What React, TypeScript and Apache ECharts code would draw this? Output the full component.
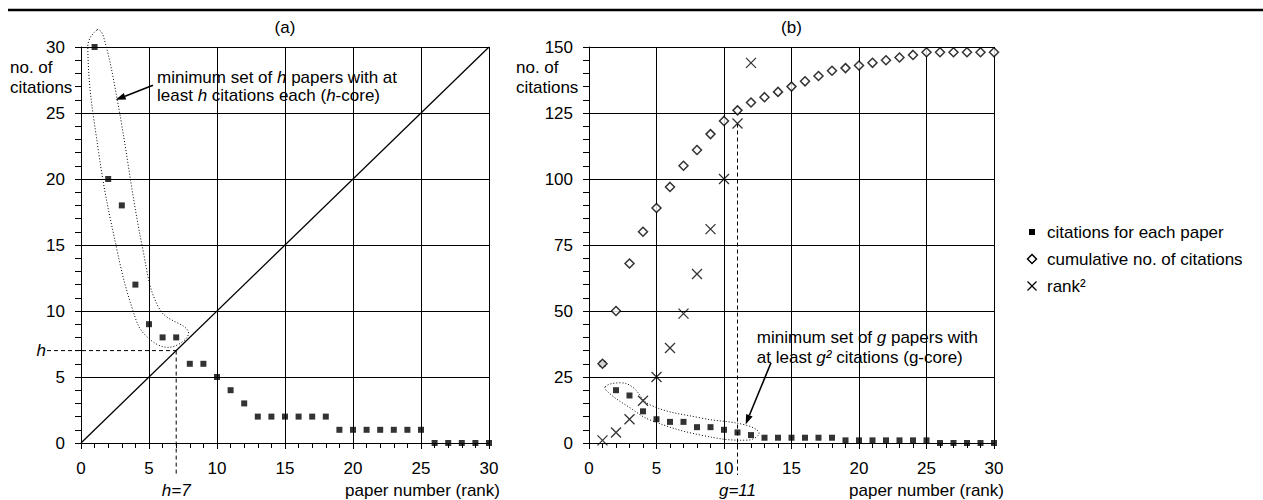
import React, { useEffect, useRef } from "react";
import * as echarts from "echarts";

const ranks = [1, 2, 3, 4, 5, 6, 7, 8, 9, 10, 11, 12, 13, 14, 15, 16, 17, 18, 19, 20, 21, 22, 23, 24, 25, 26, 27, 28, 29, 30];
const citations = [30, 20, 18, 12, 9, 8, 8, 6, 6, 5, 4, 3, 2, 2, 2, 2, 2, 2, 1, 1, 1, 1, 1, 1, 1, 0, 0, 0, 0, 0];
const cumulative = [30, 50, 68, 80, 89, 97, 105, 111, 117, 122, 126, 129, 131, 133, 135, 137, 139, 141, 142, 143, 144, 145, 146, 147, 148, 148, 148, 148, 148, 148];
const rankSquared = [1, 4, 9, 16, 25, 36, 49, 64, 81, 100, 121, 144];
const diagonal = [0, 30];
const hIndex = 7;
const gIndex = 11;
const legendNames = ["citations for each paper", "cumulative no. of citations", "rank\u00B2"];

const FONT = "'Liberation Sans', Arial, Helvetica, sans-serif";
const FS = 17;

function xAxisCfg(gi: number) {
  return {
    type: "value",
    gridIndex: gi,
    min: 0,
    max: 30,
    interval: 5,
    axisLine: { show: true, onZero: false, lineStyle: { color: "#000", width: 1 } },
    axisTick: { show: true, inside: false, length: 6, lineStyle: { color: "#000" } },
    minorTick: { show: true, splitNumber: 5, length: 5, lineStyle: { color: "#000" } },
    axisLabel: { color: "#000", fontSize: FS, fontFamily: FONT, margin: 17 },
    splitLine: { show: true, lineStyle: { color: "#000", width: 1 } },
  };
}

function yAxisCfg(gi: number, max: number, interval: number) {
  return {
    type: "value",
    gridIndex: gi,
    min: 0,
    max,
    interval,
    axisLine: { show: true, onZero: false, lineStyle: { color: "#000", width: 1 } },
    axisTick: { show: true, inside: false, length: 6, lineStyle: { color: "#000" } },
    minorTick: { show: true, splitNumber: 5, length: 6, lineStyle: { color: "#000" } },
    axisLabel: { color: "#000", fontSize: FS, fontFamily: FONT, margin: 16 },
    splitLine: { show: true, lineStyle: { color: "#000", width: 1 } },
  };
}

const CROSS = "path://M0 0L10 10M10 0L0 10";

export default function App() {
  const ref = useRef<HTMLDivElement>(null);
  useEffect(() => {
    const chart = echarts.init(ref.current as HTMLDivElement, null, { renderer: "svg" });
    const option: any = {
      animation: false,
      backgroundColor: "#fff",
      grid: [
        { left: 81, top: 47, width: 408, height: 396 },
        { left: 589, top: 47, width: 405, height: 396 },
      ],
      xAxis: [xAxisCfg(0), xAxisCfg(1)],
      yAxis: [yAxisCfg(0, 30, 5), yAxisCfg(1, 150, 25)],
      series: [
        {
          type: "line",
          xAxisIndex: 0,
          yAxisIndex: 0,
          data: diagonal.map((v) => [v, v]),
          showSymbol: false,
          symbol: "none",
          lineStyle: { color: "#000", width: 1.3 },
          z: 3,
        },
        {
          type: "scatter",
          name: legendNames[0],
          xAxisIndex: 0,
          yAxisIndex: 0,
          data: ranks.map((r, i) => [r, citations[i]]),
          symbol: "rect",
          symbolSize: 6,
          itemStyle: { color: "#000" },
          z: 4,
        },
        {
          type: "scatter",
          name: legendNames[0],
          xAxisIndex: 1,
          yAxisIndex: 1,
          data: ranks.map((r, i) => [r, citations[i]]),
          symbol: "rect",
          symbolSize: 6,
          itemStyle: { color: "#000" },
          z: 4,
        },
        {
          type: "scatter",
          name: legendNames[1],
          xAxisIndex: 1,
          yAxisIndex: 1,
          data: ranks.map((r, i) => [r, cumulative[i]]),
          symbol: "diamond",
          symbolSize: 9,
          itemStyle: { color: "#fff", borderColor: "#000", borderWidth: 1.5 },
          z: 5,
        },
        {
          type: "scatter",
          name: legendNames[2],
          xAxisIndex: 1,
          yAxisIndex: 1,
          data: rankSquared.map((v, i) => [ranks[i], v]),
          symbol: CROSS,
          symbolSize: 10,
          itemStyle: { color: "none", borderColor: "#000", borderWidth: 1.3 },
          z: 6,
        },
      ],
    };
    chart.setOption(option);

    const P = (g: number, x: number, y: number) =>
      chart.convertToPixel({ gridIndex: g } as any, [x, y]) as unknown as number[];

    const txt = (x: number, y: number, text: string, align: string, vAlign: string, extra: any = {}) => ({
      type: "text",
      x,
      y,
      z: 20,
      style: {
        text,
        fill: "#000",
        fontSize: FS,
        fontFamily: FONT,
        align,
        textAlign: align,
        verticalAlign: vAlign,
        textVerticalAlign: vAlign,
        ...extra,
      },
    });

    const arrow = (a: number[], b: number[]) => {
      const dx = b[0] - a[0];
      const dy = b[1] - a[1];
      const L = Math.hypot(dx, dy);
      const ux = dx / L;
      const uy = dy / L;
      const hl = 10;
      const hw = 3.5;
      const base = [b[0] - ux * hl, b[1] - uy * hl];
      const left = [base[0] - uy * hw, base[1] + ux * hw];
      const right = [base[0] + uy * hw, base[1] - ux * hw];
      return [
        { type: "line", z: 20, shape: { x1: a[0], y1: a[1], x2: base[0], y2: base[1] }, style: { stroke: "#000", lineWidth: 1.6 } },
        { type: "polygon", z: 20, shape: { points: [b, left, right] }, style: { fill: "#000" } },
      ];
    };

    const loop = (g: number, pts: number[][]) => ({
      type: "polygon",
      z: 15,
      shape: { points: pts.map((p) => P(g, p[0], p[1])), smooth: 0.4 },
      style: { fill: "none", stroke: "#000", lineWidth: 1, lineDash: [1, 2] },
    });

    const dashed = (a: number[], b: number[]) => ({
      type: "line",
      z: 15,
      shape: { x1: a[0], y1: a[1], x2: b[0], y2: b[1] },
      style: { stroke: "#000", lineWidth: 1, lineDash: [4, 3] },
    });

    const italic = { rich: { i: { fontStyle: "italic", fontSize: FS, fontFamily: FONT } } };

    const a0 = P(0, 0, 0);
    const a30 = P(0, 30, 30);
    const b0 = P(1, 0, 0);
    const b30 = P(1, 30, 150);
    const hPt = P(0, hIndex, hIndex);
    const gPt = P(1, gIndex, rankSquared[gIndex - 1]);

    const hLoop = [
      [1.18, 31.3], [0.5, 30], [1.3, 22], [2.65, 14.6], [3.8, 10.1], [4.7, 8.2], [6.5, 7.25],
      [7.9, 8.4], [5.8, 10.1], [4.56, 14.6], [2.65, 26.1], [1.62, 30.9],
    ];
    const gLoop = [
      [1.2, 21.3], [2.3, 22.8], [3.2, 21.3], [4.54, 14.4], [8.27, 9.5], [11.6, 6.8], [12.6, 3.8],
      [11.8, 1.1], [8.27, 3.0], [4.54, 8.7], [3.05, 13.3], [1.56, 18.6],
    ];

    const graphics: any[] = [
      { type: "line", z: 20, shape: { x1: 8, y1: 10, x2: 1263, y2: 10 }, style: { stroke: "#000", lineWidth: 2.5 } },
      txt((a0[0] + a30[0]) / 2, 27, "(a)", "center", "middle"),
      txt((b0[0] + b30[0]) / 2, 27, "(b)", "center", "middle"),
      txt(10, 57, "no. of\ncitations", "left", "top", { lineHeight: 20 }),
      txt(516, 57, "no. of\ncitations", "left", "top", { lineHeight: 20 }),
      txt(a30[0] + 11, 490, "paper number (rank)", "right", "middle"),
      txt(b30[0] + 10, 490, "paper number (rank)", "right", "middle"),
      // h annotations
      dashed([a0[0] - 34, hPt[1]], hPt),
      dashed(hPt, [hPt[0], a0[1] + 32]),
      txt(a0[0] - 35, hPt[1], "h", "right", "middle", { fontStyle: "italic" }),
      txt(hPt[0], 490, "h=7", "center", "middle", { fontStyle: "italic" }),
      loop(0, hLoop),
      ...arrow(P(0, 5.29, 27.1), P(0, 2.55, 26.0)),
      txt(P(0, 5.59, 0)[0], 68, "minimum set of {i|h} papers with at\nleast {i|h} citations each ({i|h}-core)", "left", "top", {
        lineHeight: 18,
        ...italic,
      }),
      // g annotations
      dashed(gPt, [gPt[0], b0[1] + 32]),
      txt(gPt[0], 490, "g=11", "center", "middle", { fontStyle: "italic" }),
      loop(1, gLoop),
      ...arrow(P(1, 13.48, 30.4), P(1, 11.6, 7.0)),
      txt(P(1, 12.43, 0)[0], 327, "minimum set of {i|g} papers with\nat least {i|g\u00B2} citations (g-core)", "left", "top", {
        lineHeight: 20,
        ...italic,
      }),
      // legend
      { type: "rect", z: 20, shape: { x: 1029, y: 229, width: 6, height: 6 }, style: { fill: "#000" } },
      txt(1047, 232, legendNames[0], "left", "middle"),
      {
        type: "polygon",
        z: 20,
        shape: { points: [[1032, 254.5], [1036.5, 259], [1032, 263.5], [1027.5, 259]] },
        style: { fill: "#fff", stroke: "#000", lineWidth: 1.5 },
      },
      txt(1047, 259, legendNames[1], "left", "middle"),
      { type: "line", z: 20, shape: { x1: 1027.5, y1: 281.5, x2: 1036.5, y2: 290.5 }, style: { stroke: "#000", lineWidth: 1.3 } },
      { type: "line", z: 20, shape: { x1: 1036.5, y1: 281.5, x2: 1027.5, y2: 290.5 }, style: { stroke: "#000", lineWidth: 1.3 } },
      txt(1047, 286, legendNames[2], "left", "middle"),
    ];
    chart.setOption({ graphic: graphics });
    return () => chart.dispose();
  }, []);
  return <div ref={ref} style={{ position: "absolute", left: 0, top: 0, width: 1263, height: 500 }} />;
}
